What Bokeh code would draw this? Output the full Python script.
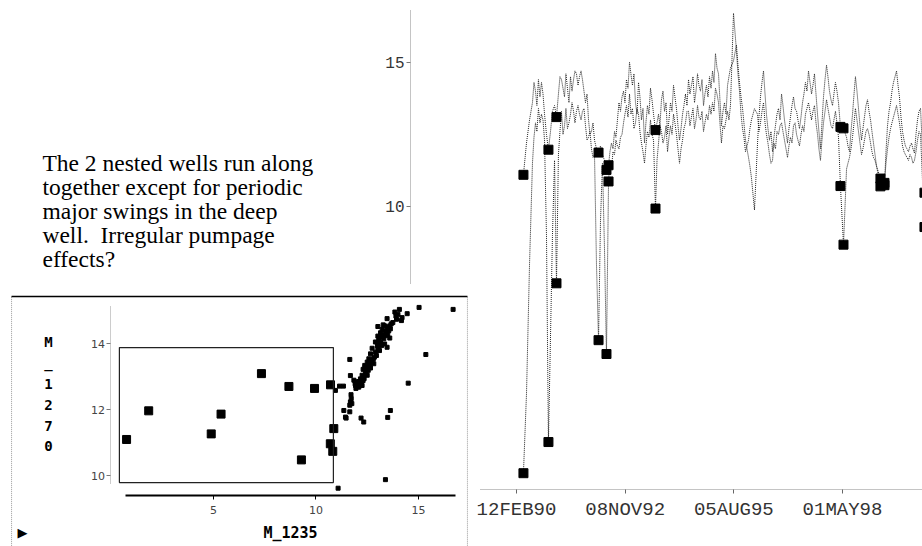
from bokeh.plotting import figure
from bokeh.models import Range1d, LinearAxis, FixedTicker, BoxAnnotation, Label
from bokeh.embed import file_html
from bokeh.resources import INLINE

# ---------------- data ----------------
# time series: days since 12FEB90, water levels of the two nested wells
day = [64, 92, 120, 147, 161, 175, 188, 202, 216, 230,
       244, 258, 276, 294, 313, 331, 350, 368, 386, 400,
       414, 428, 442, 455, 469, 483, 497, 511, 525, 538,
       552, 566, 580, 594, 607, 621, 635, 649, 663, 676,
       690, 704, 718, 736, 755, 773, 791, 810, 828, 847,
       860, 874, 888, 902, 915, 929, 943, 957, 971, 985,
       998, 1012, 1026, 1040, 1053, 1067, 1081, 1095, 1109, 1123,
       1136, 1150, 1164, 1178, 1191, 1205, 1219, 1233, 1247, 1261,
       1279, 1293, 1307, 1320, 1334, 1348, 1362, 1376, 1390, 1403,
       1417, 1431, 1445, 1458, 1472, 1486, 1500, 1514, 1528, 1541,
       1555, 1569, 1583, 1596, 1610, 1624, 1638, 1652, 1666, 1679,
       1693, 1707, 1721, 1734, 1748, 1762, 1776, 1790, 1804, 1817,
       1831, 1845, 1859, 1872, 1886, 1900, 1914, 1928, 1942, 1955,
       1969, 1997, 2024, 2038, 2052, 2066, 2080, 2093, 2107, 2121,
       2135, 2148, 2162, 2190, 2218, 2231, 2245, 2259, 2273, 2287,
       2300, 2314, 2328, 2342, 2356, 2369, 2383, 2397, 2411, 2425,
       2439, 2452, 2466, 2480, 2494, 2507, 2521, 2535, 2549, 2563,
       2577, 2590, 2604, 2618, 2632, 2645, 2659, 2673, 2687, 2701,
       2715, 2728, 2742, 2756, 2770, 2783, 2797, 2811, 2825, 2839,
       2853, 2866, 2880, 2894, 2908, 2921, 2935, 2949, 2963, 2981,
       3009, 3037, 3050, 3064, 3078, 3092, 3106, 3119, 3133, 3147,
       3161, 3175, 3188, 3202, 3216, 3230, 3244, 3258, 3271, 3285,
       3299, 3313, 3349, 3386, 3400, 3414, 3428, 3442, 3455, 3469,
       3483, 3497, 3511, 3524, 3538, 3552, 3566, 3579, 3593, 3607,
       3621, 3635, 3648, 3662, 3676, 3690, 3704, 3718, 3754]
m1270 = [11.1, 12.2, 13.0, 13.6, 14.3, 14.0, 13.5, 14.4, 13.8, 14.3,
         13.9, 13.2, 12.5, 11.97, 12.6, 13.3, 13.5, 13.1, 13.9, 14.5,
         14.4, 14.1, 13.8, 14.6, 14.1, 13.6, 14.5, 14.0, 14.4, 14.7,
         14.6, 14.2, 14.5, 14.7, 14.4, 14.0, 13.6, 13.9, 13.0, 12.5,
         12.6, 12.9, 12.3, 12.0, 11.87, 12.1, 11.8, 11.6, 11.27, 11.43,
         11.9, 12.2, 12.0, 12.6, 12.4, 13.0, 13.6, 13.3, 13.8, 14.0,
         13.6, 14.4, 14.1, 15.0, 14.6, 14.2, 14.6, 13.6, 13.2, 14.3,
         13.8, 13.0, 13.4, 12.2, 12.9, 13.5, 13.2, 14.1, 13.7, 13.2,
         12.65, 12.9, 13.2, 12.8, 13.7, 14.0, 13.3, 13.6, 12.5, 13.0,
         13.6, 13.3, 14.2, 13.8, 13.4, 12.8, 12.3, 12.7, 13.2, 13.5,
         13.9, 13.5, 14.4, 13.9, 14.2, 14.5, 13.6, 14.0, 14.6, 14.2,
         14.0, 14.4, 13.5, 13.9, 14.2, 13.8, 14.5, 14.1, 14.7, 14.3,
         15.3, 14.8, 14.6, 13.7, 12.8, 13.3, 13.6, 13.2, 14.2, 14.5,
         14.8, 15.05, 15.6, 14.9, 14.3, 13.8, 13.4, 12.9, 12.3, 12.0,
         11.7, 11.4, 11.0, 9.88, 12.2, 13.1, 13.8, 14.3, 14.7, 13.9,
         13.2, 12.7, 12.3, 12.6, 11.9, 12.4, 12.8, 13.2, 13.4, 13.0,
         13.9, 13.5, 13.0, 12.6, 12.2, 12.7, 13.1, 13.5, 13.8, 13.4,
         13.3, 13.0, 12.7, 13.1, 13.6, 13.9, 14.3, 14.0, 14.7, 14.3,
         13.9, 14.2, 14.6, 13.9, 13.2, 12.6, 12.0, 12.9, 13.8, 14.4,
         14.9, 14.5, 14.0, 13.7, 13.5, 13.9, 14.3, 14.0, 13.6, 12.76,
         12.71, 12.4, 12.1, 11.9, 12.6, 13.2, 13.9, 14.5, 14.0, 13.4,
         12.8, 12.3, 12.7, 13.1, 13.5, 13.7, 13.3, 13.0, 12.6, 12.2,
         11.8, 11.4, 10.97, 10.74, 11.9, 12.8, 13.3, 13.6, 14.0, 14.3,
         14.5, 14.7, 14.2, 13.8, 13.1, 12.6, 12.3, 12.1, 12.0, 11.9,
         12.1, 12.2, 12.0, 11.85, 12.5, 13.0, 13.3, 13.4, 10.48]
m1235 = [0.76, 3.5, 8.0, 11.5, 12.4, 12.9, 12.6, 13.4, 12.9, 13.2,
         13.0, 12.3, 9.0, 1.84, 5.5, 9.0, 11.6, 7.34, 11.8, 12.6,
         13.3, 12.5, 12.8, 13.4, 12.7, 12.9, 13.2, 13.6, 13.3, 12.9,
         13.3, 13.5, 13.2, 13.0, 13.3, 13.4, 12.8, 12.3, 12.4, 12.6,
         12.0, 11.7, 11.8, 8.0, 5.37, 9.5, 11.5, 8.5, 4.89, 10.87,
         11.6, 11.3, 11.9, 11.8, 12.3, 12.1, 12.0, 12.4, 12.5, 12.9,
         13.2, 13.5, 13.1, 13.9, 13.2, 13.4, 12.7, 12.9, 13.4, 13.2,
         12.6, 12.2, 11.9, 11.5, 12.1, 12.6, 12.4, 13.0, 12.5, 12.3,
         9.93, 11.6, 12.2, 12.8, 12.6, 12.2, 12.4, 12.8, 11.9, 12.4,
         12.8, 12.5, 13.2, 12.9, 12.5, 12.0, 11.5, 12.0, 12.3, 12.7,
         12.9, 13.3, 13.3, 12.8, 13.1, 13.4, 12.7, 13.0, 13.5, 13.1,
         13.0, 13.3, 12.6, 12.9, 13.2, 13.0, 13.5, 13.2, 13.6, 13.3,
         14.1, 13.9, 13.6, 12.9, 12.2, 12.8, 12.7, 13.0, 13.3, 13.0,
         13.5, 16.7, 15.4, 14.6, 14.0, 13.2, 12.7, 12.4, 11.9, 12.1,
         12.3, 12.7, 13.0, 13.39, 13.2, 12.6, 12.9, 13.3, 13.6, 12.9,
         12.5, 12.2, 11.8, 11.5, 11.6, 12.2, 12.0, 12.6, 12.5, 12.8,
         12.9, 12.6, 12.3, 12.0, 11.7, 12.1, 12.4, 12.2, 12.8, 12.9,
         12.5, 12.3, 12.1, 12.5, 12.8, 12.6, 13.2, 13.4, 13.6, 13.3,
         13.0, 13.3, 13.5, 12.9, 12.5, 12.0, 11.6, 12.3, 12.9, 13.3,
         13.7, 13.4, 13.1, 12.8, 12.7, 13.0, 13.3, 12.9, 12.4, 10.71,
         8.68, 11.3, 11.5, 11.7, 12.0, 12.4, 12.9, 13.4, 13.0, 12.6,
         12.2, 11.8, 12.0, 12.3, 12.6, 12.7, 12.5, 12.2, 11.9, 11.7,
         11.6, 11.4, 10.7, 10.82, 11.5, 12.0, 12.4, 12.7, 12.9, 13.1,
         13.3, 13.5, 13.2, 12.9, 12.5, 12.1, 11.9, 11.8, 11.7, 11.6,
         11.8, 11.7, 11.5, 11.6, 11.9, 12.3, 12.6, 12.5, 9.29]
# dates of the observations brushed (selected) in the scatter plot
sel_day = [64, 294, 368, 755, 828, 847, 1279, 2981, 3009, 3349, 3386, 3754]

# paired observations (M_1235, M_1270) that are not selected
sc_1235 = [14.07, 13.85, 14.45, 15.03, 16.69, 13.93, 14.17, 13.47, 13.67, 13.28,
           13.47, 13.02, 13.23, 13.39, 13.63, 13.15, 13.02, 13.23, 13.31, 13.06,
           13.60, 12.90, 13.15, 13.47, 13.02, 12.74, 12.90, 12.66, 12.85, 12.58,
           12.74, 12.50, 12.38, 12.63, 12.82, 12.50, 12.30, 12.66, 12.41, 12.25,
           12.50, 12.17, 12.30, 12.09, 12.01, 12.17, 11.93, 12.25, 12.09,
           12.20, 12.35, 12.45, 12.55, 12.60, 12.40, 12.70, 12.80, 12.95, 13.10,
           13.20, 13.35, 13.10, 13.40, 13.50, 13.55, 13.35, 13.75, 13.90, 14.00,
           14.20, 13.60, 13.00, 12.30, 12.15, 12.05, 11.95, 11.85, 11.95,
           10.95, 11.15, 11.34, 11.65, 11.68, 11.91, 11.71, 11.72, 11.68, 11.65,
           11.75, 11.36, 11.44, 11.47, 11.65, 12.20, 12.33, 13.63, 13.50, 13.39,
           14.50, 15.36, 11.08]
sc_1270 = [15.05, 14.97, 14.92, 15.11, 15.05, 14.75, 14.71, 14.77, 14.61, 14.58,
           14.51, 14.53, 14.44, 14.38, 14.46, 14.34, 14.24, 14.26, 14.16, 14.11,
           14.18, 14.06, 14.06, 13.90, 13.85, 13.87, 13.75, 13.70, 13.60, 13.55,
           13.50, 13.45, 13.35, 13.37, 13.40, 13.25, 13.23, 13.27, 13.15, 13.05,
           13.05, 12.94, 12.89, 12.86, 12.79, 12.82, 12.74, 12.74, 12.69,
           12.80, 12.95, 13.10, 13.20, 13.35, 13.30, 13.45, 13.55, 13.65, 13.80,
           13.95, 14.00, 14.20, 14.25, 14.30, 14.40, 14.55, 14.65, 14.85, 14.90,
           14.80, 14.55, 13.95, 13.00, 12.75, 12.70, 12.65, 12.90, 12.85,
           12.59, 12.72, 12.72, 13.53, 13.04, 12.79, 12.46, 12.34, 12.24, 12.14,
           12.19, 11.98, 11.78, 11.75, 11.94, 11.75, 11.63, 11.98, 11.77, 9.88,
           12.81, 13.68, 9.62]

# axes ticks and labels
date_ticks = [0, 1000, 2000, 3000]
date_labels = ["12FEB90", "08NOV92", "05AUG95", "01MAY98"]
level_ticks = [10, 15]
sc_x_ticks = [5, 10, 15]
sc_y_ticks = [10, 12, 14]
note = ("The 2 nested wells run along\ntogether except for periodic\n"
        "major swings in the deep\nwell.\u00a0 Irregular pumpage\neffects?")

assert len(day) == len(m1270) == len(m1235)
assert len(sc_1235) == len(sc_1270)

sel_pos = [day.index(d) for d in sel_day]
sel_1235 = [m1235[i] for i in sel_pos]
sel_1270 = [m1270[i] for i in sel_pos]

# ---------------- figure ----------------
p = figure(width=922, height=546, output_backend="svg", toolbar_location=None,
           x_axis_location=None, y_axis_location=None, min_border=0,
           x_range=Range1d(-4748, 3736), y_range=Range1d(-1.78, 17.14))
p.outline_line_color = None
p.grid.visible = False
p.background_fill_color = "white"
p.border_fill_color = "white"
p.extra_x_ranges = {"sx": Range1d(-5.39, 39.59)}
p.extra_y_ranges = {"sy": Range1d(7.85, 24.43)}

# ---- main time-series plot ----
yax = LinearAxis(fixed_location=-975, bounds=(7.33, 16.79),
                 ticker=FixedTicker(ticks=level_ticks, minor_ticks=[]))
yax.axis_line_color = "#888"
yax.axis_line_dash = "1 1"
yax.major_tick_in = 0
yax.major_tick_out = 4
yax.major_tick_line_color = "#777"
yax.major_label_standoff = 2
yax.major_label_text_font = "Liberation Mono"
yax.major_label_text_font_size = "16px"
yax.major_label_text_color = "#333"
p.add_layout(yax, "left")

xax = LinearAxis(fixed_location=0.194, bounds=(-331, 3736),
                 ticker=FixedTicker(ticks=date_ticks, minor_ticks=[]))
xax.major_label_overrides = dict(zip(date_ticks, date_labels))
xax.axis_line_color = "#888"
xax.axis_line_dash = "1 1"
xax.major_tick_in = 0
xax.major_tick_out = 4
xax.major_tick_line_color = "#666"
xax.major_label_standoff = 5
xax.major_label_text_font = "Liberation Mono"
xax.major_label_text_font_size = "19px"
xax.major_label_text_color = "#333"
p.add_layout(xax, "below")

p.line(day, m1270, line_color="#222", line_width=1, line_dash="1 1")
p.line(day, m1235, line_color="#222", line_width=1, line_dash="1 1")
p.scatter(sel_day, sel_1270, marker="square", size=9, color="black")
p.scatter(sel_day, sel_1235, marker="square", size=9, color="black")

p.add_layout(Label(x=-4362, y=11.95, text=note, text_font="Liberation Serif",
                   text_font_size="23.5px", text_baseline="top", text_align="left",
                   text_line_height=0.925, text_color="black"))

# ---- inset scatter plot ----
p.add_layout(BoxAnnotation(left=-4.85, right=17.39, bottom=7.0, top=15.44,
                           x_range_name="sx", y_range_name="sy",
                           fill_color=None, line_color="#999", line_alpha=1,
                           line_dash="1 1", line_width=1))
p.add_layout(BoxAnnotation(left=-4.85, right=17.39, bottom=15.44, top=15.44,
                           x_range_name="sx", y_range_name="sy",
                           fill_color=None, line_color="black", line_alpha=1,
                           line_width=1.5))

syax = LinearAxis(x_range_name="sx", y_range_name="sy", fixed_location=0.0,
                  bounds=(9.77, 15.17),
                  ticker=FixedTicker(ticks=sc_y_ticks, minor_ticks=[]))
syax.axis_line_color = "#999"
syax.axis_line_dash = "1 1"
syax.major_tick_in = 0
syax.major_tick_out = 4
syax.major_tick_line_color = "#777"
syax.major_label_standoff = 2
syax.major_label_text_font = "DejaVu Sans"
syax.major_label_text_font_size = "11px"
syax.major_label_text_color = "#444"
p.add_layout(syax, "left")

sxax = LinearAxis(x_range_name="sx", y_range_name="sy", fixed_location=9.40,
                  bounds=(0.71, 16.8),
                  ticker=FixedTicker(ticks=sc_x_ticks, minor_ticks=[]))
sxax.axis_line_color = "black"
sxax.axis_line_width = 2
sxax.major_tick_in = 0
sxax.major_tick_out = 4
sxax.major_tick_line_color = "black"
sxax.major_label_standoff = 7
sxax.major_label_text_font = "DejaVu Sans"
sxax.major_label_text_font_size = "11px"
sxax.major_label_text_color = "#444"
sxax.axis_label = "M_1235"
sxax.axis_label_standoff = 6
sxax.axis_label_text_font = "DejaVu Sans Mono"
sxax.axis_label_text_font_style = "bold"
sxax.axis_label_text_font_size = "15px"
sxax.axis_label_text_color = "black"
p.add_layout(sxax, "below")

p.add_layout(Label(x=-3.05, y=14.29, x_range_name="sx", y_range_name="sy",
                   text="M\n_\n1\n2\n7\n0", text_font="DejaVu Sans Mono",
                   text_font_style="bold", text_font_size="14px",
                   text_align="center", text_baseline="top",
                   text_line_height=1.30, text_color="black"))

p.add_layout(BoxAnnotation(left=0.41, right=10.85, bottom=9.79, top=13.89,
                           x_range_name="sx", y_range_name="sy",
                           fill_color=None, line_color="#222", line_alpha=1,
                           line_width=1.2))

p.scatter(sc_1235, sc_1270, x_range_name="sx", y_range_name="sy",
          marker="square", size=4, color="black")
p.scatter(sel_1235, sel_1270, x_range_name="sx", y_range_name="sy",
          marker="square", size=8, color="black")

p.add_layout(Label(x=-4.32, y=8.28, x_range_name="sx", y_range_name="sy",
                   text="\u25B6", text_font="DejaVu Sans", text_font_size="13px",
                   text_align="center", text_baseline="middle", text_color="black"))

open("out.html", "w").write(file_html(p, INLINE))
